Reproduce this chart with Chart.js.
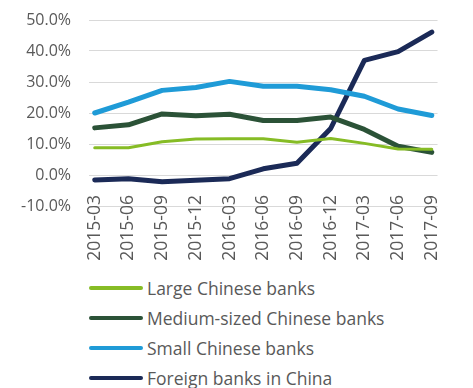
<!DOCTYPE html>
<html>
<head>
<meta charset="utf-8">
<script src="https://cdn.jsdelivr.net/npm/chart.js@4/dist/chart.umd.min.js"></script>
<style>
  html, body { margin: 0; padding: 0; background: #fff; }
  #wrap { width: 473px; height: 388px; }
  #legend { margin: 1px 0 0 89px; font-family: "Open Sans", sans-serif; font-size: 17.5px; color: #595959; }
  .item { height: 30px; display: flex; align-items: center; }
  .swatch { width: 54px; height: 4px; border-radius: 2px; margin-right: 4px; }
</style>
</head>
<body>
<div id="wrap">
  <canvas id="chart" width="473" height="272"></canvas>
  <div id="legend"></div>
</div>
<script>
// Quarter labels along the x axis
const quarters = ['2015-03', '2015-06', '2015-09', '2015-12', '2016-03', '2016-06',
                  '2016-09', '2016-12', '2017-03', '2017-06', '2017-09'];

// Growth rates (%) per bank group
const largeBanks   = [8.8, 8.8, 10.7, 11.6, 11.7, 11.7, 10.6, 11.8, 10.2, 8.4, 8.3];
const mediumBanks  = [15.2, 16.2, 19.7, 19.1, 19.6, 17.6, 17.6, 18.7, 14.7, 9.3, 7.3];
const smallBanks   = [20.0, 23.5, 27.3, 28.2, 30.2, 28.6, 28.6, 27.5, 25.4, 21.3, 19.2];
const foreignBanks = [-1.6, -1.2, -2.2, -1.7, -1.2, 2.0, 3.8, 15.0, 37.0, 39.8, 46.1];

const yTicks = [-10, 0, 10, 20, 30, 40, 50];

const seriesNames = ['Large Chinese banks', 'Medium-sized Chinese banks',
                     'Small Chinese banks', 'Foreign banks in China'];
const seriesColors = ['#86bc25', '#2b5237', '#1f9bd7', '#1b2a57'];

const textColor = '#595959';

function toPoints(values) {
    return values.map((v, i) => ({ x: i, y: v }));
}

const datasets = [largeBanks, mediumBanks, smallBanks, foreignBanks].map((values, i) => ({
    label: seriesNames[i],
    data: toPoints(values),
    borderColor: seriesColors[i],
    backgroundColor: seriesColors[i],
    borderWidth: i === 0 ? 3 : 5,
    borderCapStyle: 'round',
    borderJoinStyle: 'round',
    pointRadius: 0,
    tension: 0,
    fill: false
}));

const ctx = document.getElementById('chart').getContext('2d');
const chart = new Chart(ctx, {
    type: 'line',
    data: { datasets: datasets },
    options: {
        responsive: false,
        animation: false,
        layout: { padding: { top: 20, right: 13, left: 0, bottom: 66 } },
        plugins: {
            legend: { display: false },
            tooltip: { enabled: false }
        },
        scales: {
            x: {
                type: 'linear',
                // category labels hang off the 0% line
                position: { y: 0 },
                min: -0.17,
                max: quarters.length - 1 + 0.17,
                afterBuildTicks: scale => {
                    scale.ticks = quarters.map((q, i) => ({ value: i }));
                },
                grid: { display: false, drawTicks: false },
                border: { display: false },
                ticks: {
                    font: { family: '"Open Sans", sans-serif', size: 17.5 },
                    color: textColor,
                    padding: 20,
                    minRotation: 90,
                    maxRotation: 90,
                    autoSkip: false,
                    callback: value => quarters[value]
                }
            },
            y: {
                min: yTicks[0],
                max: yTicks[yTicks.length - 1],
                afterBuildTicks: scale => {
                    scale.ticks = yTicks.map(v => ({ value: v }));
                },
                afterFit: scale => {
                    scale.width = 89;
                    scale.paddingTop = 0;
                    scale.paddingBottom = 0;
                },
                grid: { color: '#d9d9d9', lineWidth: 1, drawTicks: false },
                border: { display: false },
                ticks: {
                    font: { family: '"Open Sans", sans-serif', size: 16 },
                    color: textColor,
                    padding: 18,
                    callback: value => value.toFixed(1) + '%'
                }
            }
        }
    }
});

// Legend stacked one entry per row under the plot
const legend = document.getElementById('legend');
chart.data.datasets.forEach(ds => {
    const row = document.createElement('div');
    row.className = 'item';
    const swatch = document.createElement('span');
    swatch.className = 'swatch';
    swatch.style.background = ds.borderColor;
    const label = document.createElement('span');
    label.textContent = ds.label;
    row.appendChild(swatch);
    row.appendChild(label);
    legend.appendChild(row);
});
</script>
</body>
</html>
